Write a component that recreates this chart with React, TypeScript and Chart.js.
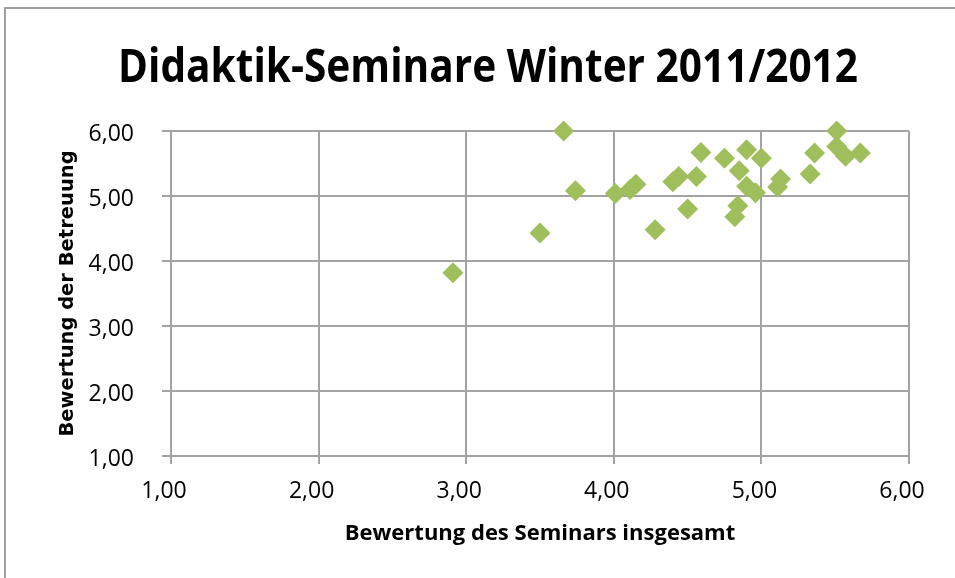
import React, { useEffect, useRef } from "react";
import { Chart, registerables } from "chart.js";

Chart.register(...registerables);

const TITLE = "Didaktik-Seminare Winter 2011/2012";
const X_TITLE = "Bewertung des Seminars insgesamt";
const Y_TITLE = "Bewertung der Betreuung";

// Bewertung des Seminars insgesamt
const seminarValues = [
  2.91, 3.5, 3.66, 3.74, 4.01, 4.11, 4.15, 4.28, 4.4, 4.44, 4.5, 4.56, 4.59,
  4.75, 4.82, 4.84, 4.85, 4.9, 4.9, 4.96, 5.0, 5.11, 5.13, 5.33, 5.36, 5.51,
  5.51, 5.57, 5.67,
];
// Bewertung der Betreuung
const betreuungValues = [
  3.82, 4.43, 6.0, 5.08, 5.04, 5.1, 5.18, 4.48, 5.22, 5.3, 4.8, 5.3, 5.67,
  5.58, 4.68, 4.85, 5.39, 5.71, 5.15, 5.05, 5.58, 5.14, 5.26, 5.34, 5.66, 6.0,
  5.76, 5.61, 5.66,
];

const AXIS_MIN = 1;
const AXIS_MAX = 6;
const AXIS_STEP = 1;

const fmt = (v: number) => v.toFixed(2).replace(".", ",");

const GRID = "#a3a3a3";

const framePlugin = {
  id: "frame",
  beforeDraw(chart: any) {
    const { ctx, width, height } = chart;
    ctx.save();
    ctx.fillStyle = "#ffffff";
    ctx.fillRect(0, 0, width, height);
    ctx.strokeStyle = "#a0a0a0";
    ctx.lineWidth = 2;
    ctx.beginPath();
    ctx.moveTo(5, height + 2);
    ctx.lineTo(5, 8);
    ctx.lineTo(width + 2, 8);
    ctx.stroke();
    ctx.restore();
  },
  afterDraw(chart: any) {
    const { ctx } = chart;
    ctx.save();
    ctx.font = "bold 47px 'Open Sans'";
    ctx.fillStyle = "#000000";
    ctx.textAlign = "center";
    ctx.textBaseline = "middle";
    const w = ctx.measureText(TITLE).width;
    const sx = 740 / w;
    ctx.translate(488, 69);
    ctx.scale(sx, 1);
    ctx.fillText(TITLE, 0, 0);
    ctx.restore();
  },
};

export default function App() {
  const ref = useRef<HTMLCanvasElement | null>(null);

  useEffect(() => {
    document.body.style.margin = "0";
    const canvas = ref.current;
    if (!canvas) return;
    const points = seminarValues.map((x, i) => ({ x, y: betreuungValues[i] }));
    const chart = new Chart(canvas, {
      type: "scatter",
      data: {
        datasets: [
          {
            label: "Seminare",
            data: points,
            pointStyle: "rectRot",
            pointRadius: 10.5,
            pointHoverRadius: 10.5,
            backgroundColor: "#9FBF5D",
            borderColor: "#9FBF5D",
            borderWidth: 0,
            clip: false,
          },
        ],
      },
      options: {
        animation: false,
        responsive: false,
        maintainAspectRatio: false,
        layout: { padding: { left: 0, right: 46, top: 131, bottom: 0 } },
        plugins: {
          legend: { display: false },
          tooltip: { enabled: false },
          title: { display: false },
        },
        scales: {
          x: {
            type: "linear",
            min: AXIS_MIN,
            max: AXIS_MAX,
            afterFit: (scale: any) => {
              scale.height = 122;
            },
            ticks: {
              stepSize: AXIS_STEP,
              color: "#000000",
              font: { family: "'Open Sans'", size: 23 },
              padding: 14,
              labelOffset: -7,
              maxRotation: 0,
              callback: (v: any) => fmt(Number(v)),
            },
            grid: { color: GRID, lineWidth: 2, tickLength: 8, tickColor: GRID },
            border: { color: GRID, width: 2 },
            title: {
              display: true,
              text: X_TITLE,
              color: "#000000",
              font: { family: "'Open Sans'", size: 22, weight: "bold", lineHeight: 1.2 },
              padding: { top: 0, bottom: 31 },
            },
          },
          y: {
            type: "linear",
            min: AXIS_MIN,
            max: AXIS_MAX,
            afterFit: (scale: any) => {
              scale.width = 171;
            },
            ticks: {
              stepSize: AXIS_STEP,
              color: "#000000",
              font: { family: "'Open Sans'", size: 23 },
              padding: 28,
              labelOffset: 3,
              callback: (v: any) => fmt(Number(v)),
            },
            grid: { color: GRID, lineWidth: 2, tickLength: 9, tickColor: GRID },
            border: { color: GRID, width: 2 },
            title: {
              display: true,
              text: Y_TITLE,
              color: "#000000",
              font: { family: "'DejaVu Sans'", size: 19.5, weight: "bold", lineHeight: 1.2 },
              padding: { top: 56, bottom: 0 },
            },
          },
        },
      },
      plugins: [framePlugin],
    });
    return () => chart.destroy();
  }, []);

  return (
    <div style={{ width: 955, height: 578 }}>
      <canvas ref={ref} width={955} height={578} style={{ display: "block" }} />
    </div>
  );
}
